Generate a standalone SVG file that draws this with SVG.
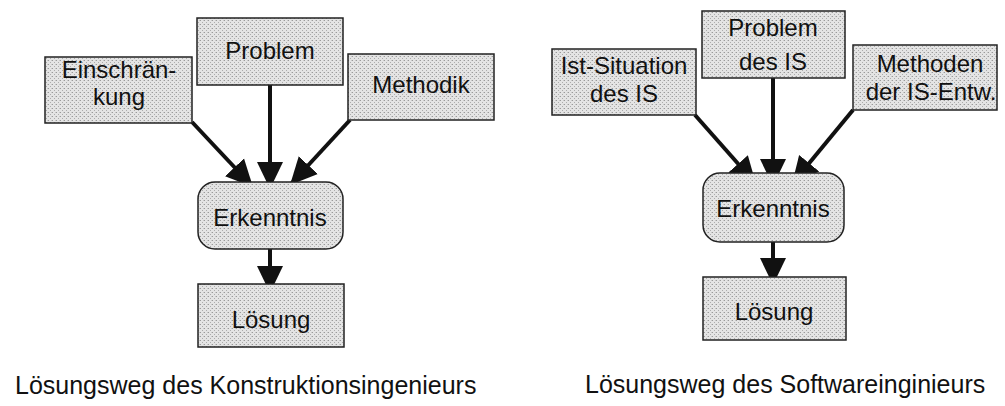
<svg xmlns="http://www.w3.org/2000/svg" width="1005" height="406" viewBox="0 0 1005 406">
<defs>
<pattern id="stip" width="4" height="4" patternUnits="userSpaceOnUse">
<rect width="4" height="4" fill="#e4e4e4"/>
<rect x="0" y="0" width="1" height="1" fill="#9a9a9a"/>
<rect x="2" y="2" width="1" height="1" fill="#acacac"/>
<rect x="3" y="0" width="1" height="1" fill="#c8c8c8"/>
</pattern>
<marker id="ah" markerUnits="userSpaceOnUse" markerWidth="28" markerHeight="28" viewBox="0 0 28 28" refX="27" refY="14" orient="auto">
<path d="M0,1 L27,14 L0,27 Z" fill="#111"/>
</marker>
</defs>
<style>
.box{fill:url(#stip);stroke:#222;stroke-width:1.5}
.lbl{font-family:"Liberation Sans",Arial,sans-serif;font-size:24px;fill:#111;text-anchor:middle}
.ttl{font-family:"Liberation Sans",Arial,sans-serif;font-size:25px;fill:#111}
.con{stroke:#111;stroke-width:4;fill:none;marker-end:url(#ah)}
</style>

<g id="connectors">
<line class="con" x1="192" y1="122" x2="253" y2="187"/>
<line class="con" x1="270" y1="85" x2="270" y2="189"/>
<line class="con" x1="350" y1="120" x2="290" y2="185"/>
<line class="con" x1="270" y1="249" x2="270" y2="293"/>
<line class="con" x1="695" y1="115" x2="756" y2="184"/>
<line class="con" x1="773" y1="78" x2="773" y2="186"/>
<line class="con" x1="853" y1="110" x2="792" y2="184"/>
<line class="con" x1="773" y1="242" x2="773" y2="285"/>
</g>

<g id="einschraenkung">
<rect class="box" x="45" y="57" width="147" height="66"/>
<text class="lbl" x="119" y="78">Einschrän-</text>
<text class="lbl" x="119" y="105">kung</text>
</g>
<g id="problem">
<rect class="box" x="197" y="18" width="146" height="67"/>
<text class="lbl" x="270" y="59">Problem</text>
</g>
<g id="methodik">
<rect class="box" x="348" y="54" width="146" height="66"/>
<text class="lbl" x="421" y="93">Methodik</text>
</g>
<g id="erkenntnis1">
<rect class="box" x="198" y="182" width="145" height="67" rx="17" ry="17"/>
<text class="lbl" x="270" y="226">Erkenntnis</text>
</g>
<g id="loesung1">
<rect class="box" x="198" y="284" width="146" height="63"/>
<text class="lbl" x="271" y="328">Lösung</text>
</g>

<g id="ist-situation">
<rect class="box" x="552" y="49" width="144" height="66"/>
<text class="lbl" x="624" y="74">Ist-Situation</text>
<text class="lbl" x="624" y="102">des IS</text>
</g>
<g id="problem-is">
<rect class="box" x="702" y="11" width="143" height="67"/>
<text class="lbl" x="773" y="36">Problem</text>
<text class="lbl" x="773" y="70">des IS</text>
</g>
<g id="methoden">
<rect class="box" x="853" y="45" width="144" height="65"/>
<text class="lbl" x="930" y="72">Methoden</text>
<text class="lbl" x="931" y="100">der IS-Entw.</text>
</g>
<g id="erkenntnis2">
<rect class="box" x="703" y="173" width="141" height="69" rx="17" ry="17"/>
<text class="lbl" x="773" y="217">Erkenntnis</text>
</g>
<g id="loesung2">
<rect class="box" x="703" y="277" width="143" height="63"/>
<text class="lbl" x="774" y="320">Lösung</text>
</g>

<g id="titles">
<text class="ttl" x="15" y="394">Lösungsweg des Konstruktionsingenieurs</text>
<text class="ttl" x="585" y="393">Lösungsweg des Softwareinginieurs</text>
</g>
</svg>
